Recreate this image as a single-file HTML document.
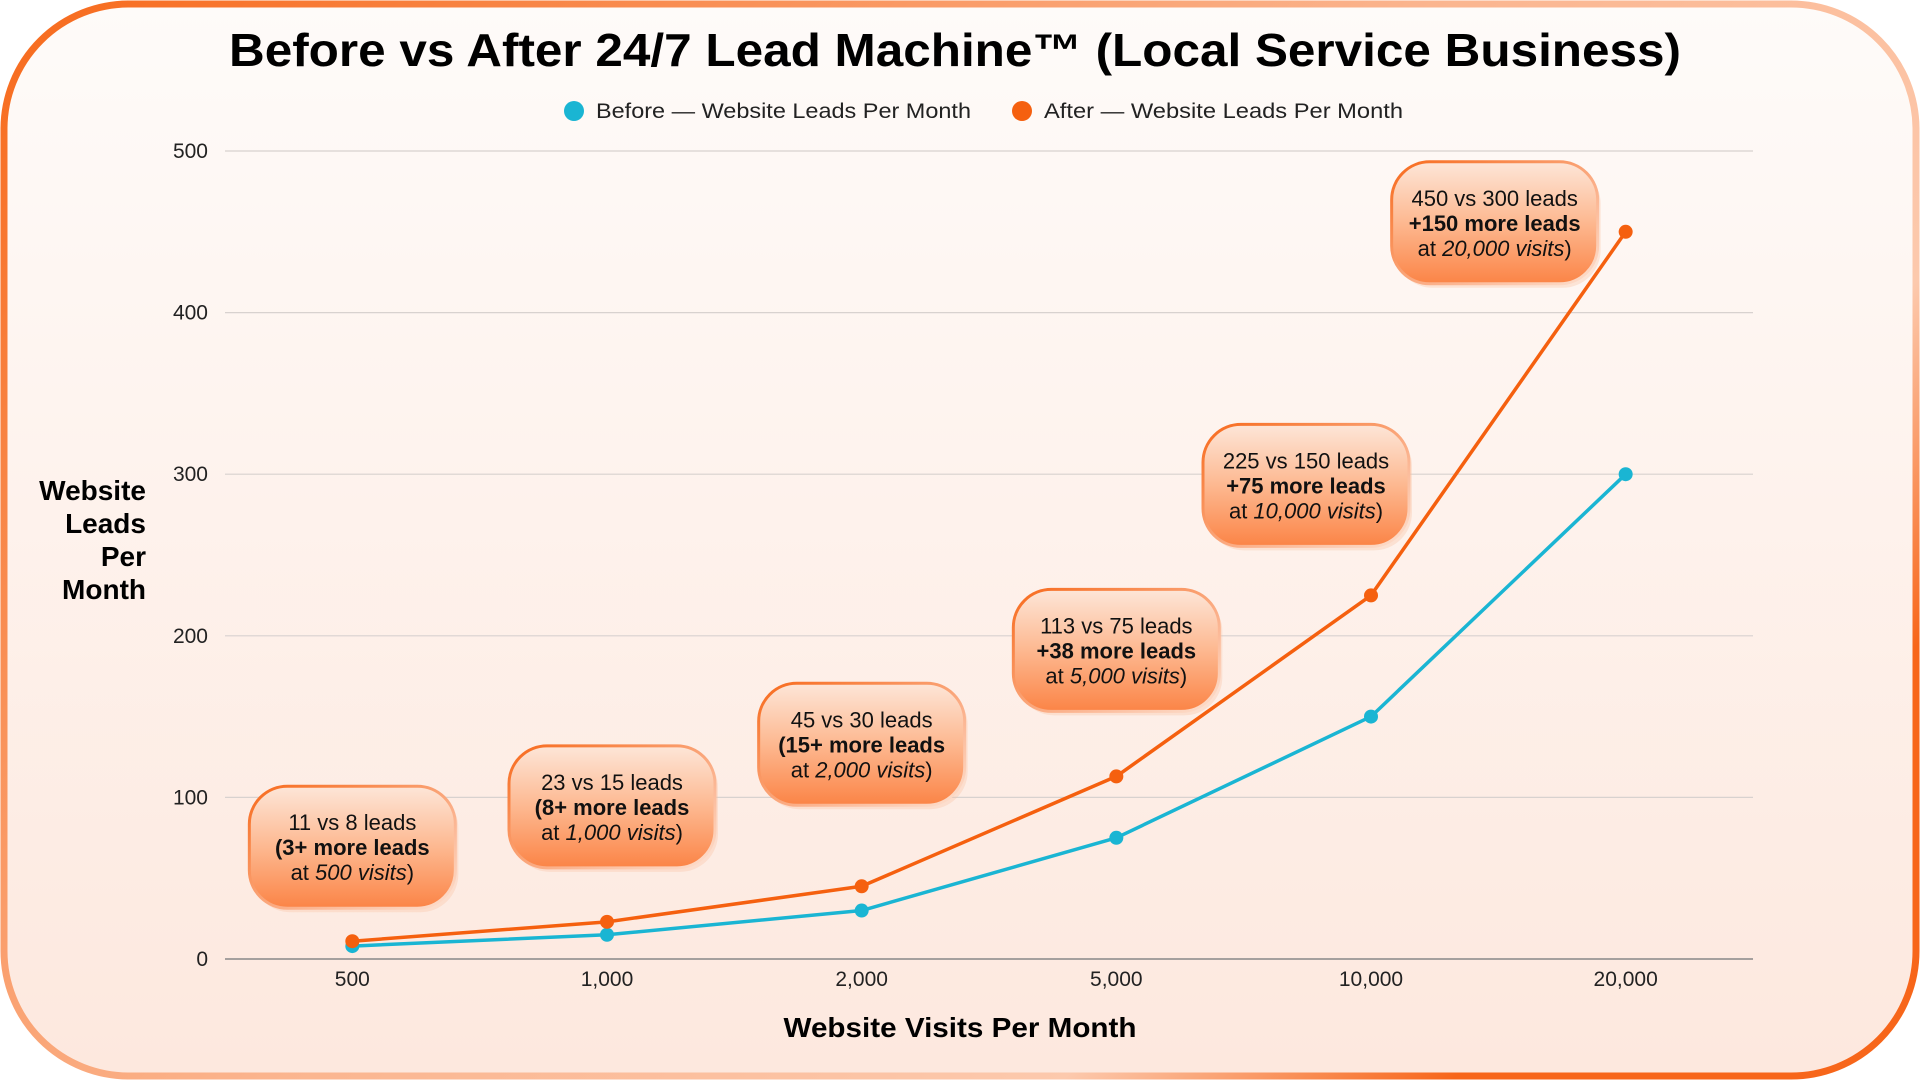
<!DOCTYPE html>
<html><head><meta charset="utf-8"><style>
html,body{margin:0;padding:0;width:1920px;height:1080px;overflow:hidden;background:#fff;}
svg{display:block;font-family:"Liberation Sans",sans-serif;}
</style></head><body>
<svg id="chart" width="1920" height="1080" viewBox="0 0 1920 1080">
<defs>
<linearGradient id="bg" x1="0" y1="0" x2="0" y2="1"><stop offset="0" stop-color="#fefbf9"/><stop offset="1" stop-color="#fde8de"/></linearGradient>
<linearGradient id="border" x1="0" y1="0" x2="1" y2="0.6"><stop offset="0" stop-color="#f76a1c"/><stop offset="0.55" stop-color="#fbb58f"/><stop offset="0.85" stop-color="#fcc9ad"/><stop offset="1" stop-color="#f7661a"/></linearGradient>
<linearGradient id="bub" x1="0" y1="0" x2="0" y2="1"><stop offset="0" stop-color="#fde6d8"/><stop offset="0.5" stop-color="#fdb890"/><stop offset="1" stop-color="#fb8446"/></linearGradient>
<linearGradient id="bubs" x1="0" y1="0" x2="1" y2="1"><stop offset="0" stop-color="#f76a1c"/><stop offset="0.6" stop-color="#fbb08a"/><stop offset="1" stop-color="#fde0d0"/></linearGradient>
</defs>
<rect x="4" y="4" width="1912" height="1072" rx="125" fill="url(#bg)" stroke="url(#border)" stroke-width="7"/>
<text x="955" y="66" text-anchor="middle" font-size="46" font-weight="bold" textLength="1452" lengthAdjust="spacingAndGlyphs" fill="#000">Before vs After 24/7 Lead Machine™ (Local Service Business)</text>
<g>
<circle cx="574" cy="111" r="10" fill="#1ab5d3"/>
<text x="596" y="118" font-size="21" fill="#222" textLength="375" lengthAdjust="spacingAndGlyphs">Before — Website Leads Per Month</text>
<circle cx="1022" cy="111" r="10" fill="#f5600f"/>
<text x="1044" y="118" font-size="21" fill="#222" textLength="359" lengthAdjust="spacingAndGlyphs">After — Website Leads Per Month</text>
</g>
<g id="grid"></g><g id="axes"></g><g id="lines"></g><g id="bubbles"></g>
<g font-size="28" font-weight="bold" text-anchor="end">
<text x="146" y="500">Website</text><text x="146" y="533">Leads</text><text x="146" y="566">Per</text><text x="146" y="599">Month</text>
</g>
<text x="960" y="1037" text-anchor="middle" font-size="28" font-weight="bold" textLength="353" lengthAdjust="spacingAndGlyphs">Website Visits Per Month</text>
</svg>
<script>
const categories = ["500","1,000","2,000","5,000","10,000","20,000"];
const beforeValues = [8,15,30,75,150,300];
const afterValues = [11,23,45,113,225,450];
const yTicks = [0,100,200,300,400,500];
const noteLine1 = ["11 vs 8 leads","23 vs 15 leads","45 vs 30 leads","113 vs 75 leads","225 vs 150 leads","450 vs 300 leads"];
const noteBold = ["(3+ more leads","(8+ more leads","(15+ more leads","+38 more leads","+75 more leads","+150 more leads"];
const noteVisits = ["500 visits","1,000 visits","2,000 visits","5,000 visits","10,000 visits","20,000 visits"];
// layout offsets (pixels) for bubbles relative to point
const bubDx = [0,5,0,0,-65,-131];
const bubDy = [94,115,142,126,110,9];

const NS="http://www.w3.org/2000/svg";
const L=225,R=1753,T=151,B=959,yMax=500;
const band=(R-L)/categories.length;
const xS=i=>L+band*(i+0.5);
const yS=v=>B-(v/yMax)*(B-T);
function mk(tag,attrs,parent){const e=document.createElementNS(NS,tag);for(const k in attrs)e.setAttribute(k,attrs[k]);parent.appendChild(e);return e;}
const grid=document.getElementById('grid'),axes=document.getElementById('axes'),lines=document.getElementById('lines'),bubbles=document.getElementById('bubbles');
yTicks.forEach(t=>{
  const g=mk('line',{x1:L,x2:R,y1:yS(t),y2:yS(t),stroke:t===0?'#888':'#d8d2cf','stroke-width':t===0?1.5:1.2},grid);
  
  
  const tx=mk('text',{x:208,y:yS(t)+7,'text-anchor':'end','font-size':21,fill:'#222'},axes);
  tx.textContent=t;
  
  
});
categories.forEach((c,i)=>{
  const tx=mk('text',{x:xS(i),y:986,'text-anchor':'middle','font-size':21,fill:'#222'},axes);
  tx.textContent=c;
  
  
});
function series(vals,color,name){
  const p=mk('polyline',{points:vals.map((v,i)=>xS(i)+','+yS(v)).join(' '),fill:'none',stroke:color,'stroke-width':3.5,'stroke-linejoin':'round'},lines);
  
  
  vals.forEach((v,i)=>{
    const c=mk('circle',{cx:xS(i),cy:yS(v),r:7,fill:color},lines);
    
    
  });
}
series(beforeValues,'#1ab5d3','before');
series(afterValues,'#f5600f','after');
afterValues.forEach((v,i)=>{
  const cx=xS(i)+bubDx[i], cy=yS(v)-bubDy[i];
  const w=Math.max(206, noteLine1[i].length*11+30), h=122;
  const g=mk('g',{},bubbles);
  
  
  mk('rect',{x:cx-w/2+3,y:cy-h/2+4,width:w,height:h,rx:38,fill:'#f9c2a4',opacity:0.35},g);
  mk('rect',{x:cx-w/2,y:cy-h/2,width:w,height:h,rx:38,fill:'url(#bub)',stroke:'url(#bubs)','stroke-width':3},g);
  const t1=mk('text',{x:cx,y:cy-17,'text-anchor':'middle','font-size':22,fill:'#111'},g);t1.textContent=noteLine1[i];
  const t2=mk('text',{x:cx,y:cy+8,'text-anchor':'middle','font-size':22,'font-weight':'bold',fill:'#111'},g);t2.textContent=noteBold[i];
  const t3=mk('text',{x:cx,y:cy+33,'text-anchor':'middle','font-size':22,fill:'#111'},g);
  const a=mk('tspan',{},t3);a.textContent='at ';
  const b=mk('tspan',{'font-style':'italic'},t3);b.textContent=noteVisits[i];
  const c=mk('tspan',{},t3);c.textContent=')';
});
</script>
</body></html>
